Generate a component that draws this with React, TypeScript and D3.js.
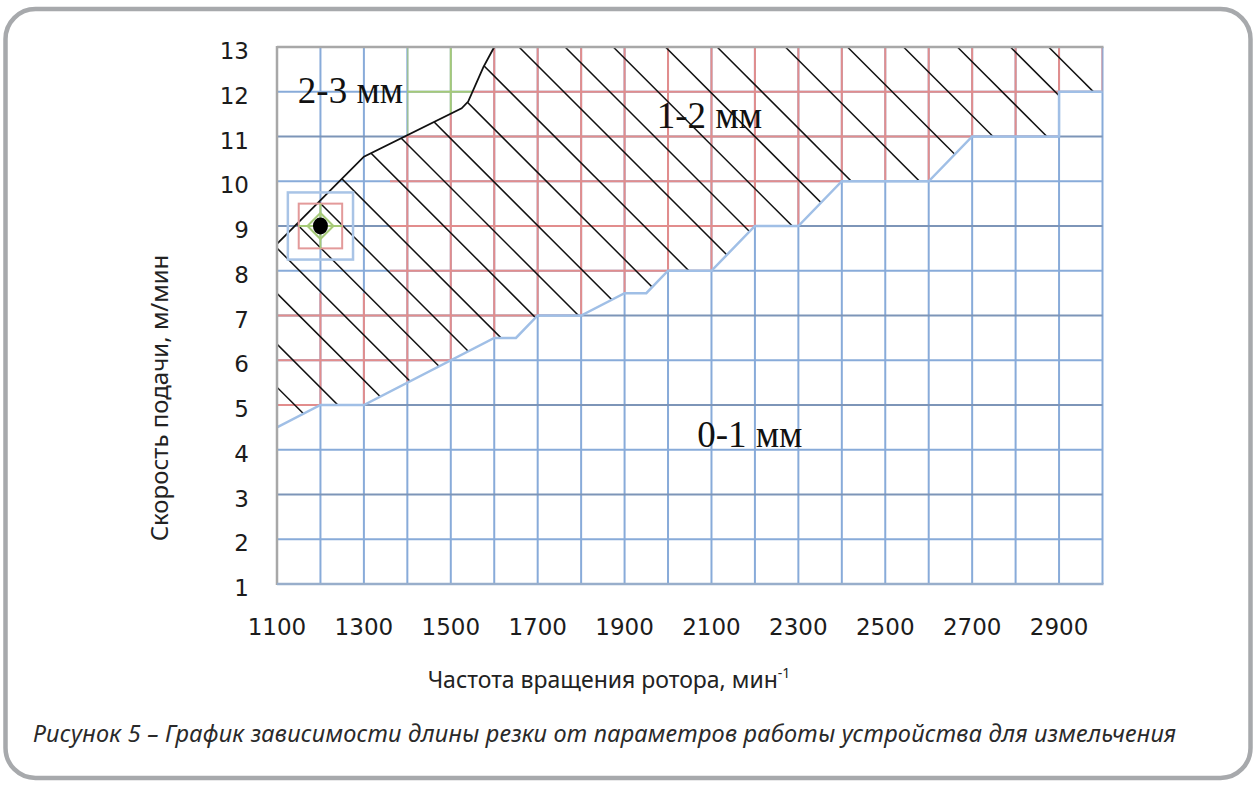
import * as d3 from 'd3'
import React from 'react'

// axis ticks
const rpmLabels = [1100, 1300, 1500, 1700, 1900, 2100, 2300, 2500, 2700, 2900]
const speedLabels = [1, 2, 3, 4, 5, 6, 7, 8, 9, 10, 11, 12, 13]
const darkRows = [3, 5, 7, 9, 11]

// lower edge of the 1-2 mm zone (blue line)
const lowerRpm = [1100, 1200, 1300, 1600, 1650, 1700, 1800, 1900, 1950, 2000, 2100, 2200, 2300, 2400, 2600, 2700, 2900, 2900, 3000]
const lowerSpeed = [4.5, 5, 5, 6.5, 6.5, 7, 7, 7.5, 7.5, 8, 8, 9, 9, 10, 10, 11, 11, 12, 12]

// upper edge of the 1-2 mm zone (black line)
const upperRpm = [1100, 1300, 1525, 1540, 1575, 1600]
const upperSpeed = [8.6, 10.55, 11.63, 11.78, 12.55, 13]

// hatch lines: rpm where each line crosses the top (13 m/min) level
const hatchStarts = [317, 416, 533, 637, 738, 840, 946, 1072, 1176, 1289, 1411, 1533, 1657, 1763, 1874, 1994, 2113, 2270, 2413, 2542, 2666, 2788, 2876]

const zoneLabels = [
    { text: '2-3 мм', rpm: 1148, speed: 11.74 },
    { text: '1-2 мм', rpm: 1974, speed: 11.18 },
    { text: '0-1 мм', rpm: 2067, speed: 4.06 },
]

const marker = { rpm: 1200, speed: 9 }

const W = 1255
const H = 785

const App = (): JSX.Element => {
    const x = d3.scaleLinear().domain([1100, 3000]).range([277, 1102.5])
    const y = d3.scaleLinear().domain([1, 13]).range([584, 47])

    const gridRpm = d3.range(1200, 3001, 100)
    const gridSpeed = d3.range(2, 13)

    const line = d3
        .line<number[]>()
        .x((d) => x(d[0]))
        .y((d) => y(d[1]))

    const lower = lowerRpm.map((r, i) => [r, lowerSpeed[i]])
    const upper = upperRpm.map((r, i) => [r, upperSpeed[i]])
    const zone12 = [...upper, [3000, 13], ...lower.slice().reverse()]
    const zone23 = [[1100, 13], [1600, 13], ...upper.slice().reverse()]
    // the red grid of the middle zone does not reach the top-left corner
    const redArea = [[1100, 7.5], [1360, 7.5], [1360, 13], [3000, 13], [3000, 1], [1100, 1]]
    const greenArea = [[1400, 11], [1600, 11], [1600, 13], [1400, 13]]

    const poly = (pts: number[][]) => line(pts) + 'Z'

    const grid = (color: string, dark?: string) => (
        <g fill="none" strokeWidth={2}>
            {gridRpm.map((r) => (
                <line key={`v${r}`} x1={x(r)} x2={x(r)} y1={y(1)} y2={y(13)} stroke={color} />
            ))}
            {gridSpeed.map((s) => (
                <line
                    key={`h${s}`}
                    x1={x(1100)}
                    x2={x(3000)}
                    y1={y(s)}
                    y2={y(s)}
                    stroke={dark && darkRows.includes(s) ? dark : color}
                />
            ))}
        </g>
    )

    const m = { cx: x(marker.rpm), cy: y(marker.speed) }
    const dia = 13

    return (
        <svg width={W} height={H} style={{ position: 'absolute', left: 0, top: 0 }}>
            <defs>
                <clipPath id="clip12">
                    <path d={poly(zone12)} />
                </clipPath>
                <clipPath id="clipRed">
                    <path d={poly(redArea)} />
                </clipPath>
                <clipPath id="clip23">
                    <path d={poly(zone23)} />
                </clipPath>
                <clipPath id="clipGreen">
                    <path d={poly(greenArea)} />
                </clipPath>
            </defs>
            <rect
                x={5.5}
                y={9}
                width={1245}
                height={769}
                rx={30}
                fill="#fff"
                stroke="#a7a9ac"
                strokeWidth={4.5}
            />

            {/* base blue grid */}
            {grid('#88abd9', '#7d95b8')}

            {/* red grid over the 1-2 mm zone */}
            <g clipPath="url(#clipRed)">
                <g clipPath="url(#clip12)">{grid('#e28d8d')}</g>
            </g>

            {/* green grid piece in the 2-3 mm zone */}
            <g clipPath="url(#clipGreen)">
                <g clipPath="url(#clip23)">{grid('#a6ca78')}</g>
            </g>

            {/* hatching */}
            <g clipPath="url(#clip12)">
                {hatchStarts.map((s) => (
                    <line
                        key={s}
                        x1={x(s)}
                        y1={y(13)}
                        x2={x(s) + 900}
                        y2={y(13) + 900}
                        stroke="#111"
                        strokeWidth={1.5}
                    />
                ))}
            </g>

            {/* zone boundaries */}
            <path d={line(lower)} fill="none" stroke="#a0bfe6" strokeWidth={2.5} />
            <path d={line(upper)} fill="none" stroke="#111" strokeWidth={1.8} />

            {/* frame */}
            <g stroke="#a8a8a8" strokeWidth={2.5}>
                <line x1={x(1100)} x2={x(1100)} y1={y(1) + 1} y2={y(13) - 1} />
                <line x1={x(1100)} x2={x(3000) + 1} y1={y(13)} y2={y(13)} />
            </g>
            <line x1={x(1100)} x2={x(3000) + 1} y1={y(1)} y2={y(1)} stroke="#98aecb" strokeWidth={2.5} />

            {/* marker */}
            <rect
                x={x(marker.rpm - 75)}
                y={y(marker.speed + 0.75)}
                width={x(marker.rpm + 75) - x(marker.rpm - 75)}
                height={y(marker.speed - 0.75) - y(marker.speed + 0.75)}
                fill="none"
                stroke="#a9c4e6"
                strokeWidth={2.5}
            />
            <rect
                x={x(marker.rpm - 50)}
                y={y(marker.speed + 0.5)}
                width={x(marker.rpm + 50) - x(marker.rpm - 50)}
                height={y(marker.speed - 0.5) - y(marker.speed + 0.5)}
                fill="none"
                stroke="#e39a9a"
                strokeWidth={2}
            />
            <g stroke="#a6ca78" strokeWidth={2} fill="none">
                <line x1={m.cx} x2={m.cx} y1={y(marker.speed + 0.5)} y2={y(marker.speed - 0.5)} />
                <line x1={x(marker.rpm - 50)} x2={x(marker.rpm + 50)} y1={m.cy} y2={m.cy} />
                <path d={`M${m.cx},${m.cy - dia}L${m.cx + dia},${m.cy}L${m.cx},${m.cy + dia}L${m.cx - dia},${m.cy}Z`} />
            </g>
            <ellipse cx={m.cx} cy={m.cy} rx={7.5} ry={8.5} fill="#000" />

            {/* zone labels */}
            {zoneLabels.map((l) => (
                <text
                    key={l.text}
                    x={x(l.rpm)}
                    y={y(l.speed)}
                    fontFamily="Liberation Serif, serif"
                    fontSize={37}
                    fill="#111"
                >
                    {l.text}
                </text>
            ))}

            {/* tick labels */}
            <g fontFamily="DejaVu Sans, sans-serif" fontSize={23} fill="#1c1c1c">
                {rpmLabels.map((r) => (
                    <text key={r} x={x(r)} y={635} textAnchor="middle">
                        {r}
                    </text>
                ))}
                {speedLabels.map((s) => (
                    <text key={s} x={249} y={y(s) + 12} textAnchor="end">
                        {s}
                    </text>
                ))}
            </g>

            {/* axis titles */}
            <text
                transform="translate(168,398) rotate(-90)"
                textAnchor="middle"
                fontFamily="Noto Sans, sans-serif"
                fontSize={24}
                fill="#222"
            >
                Скорость подачи, м/мин
            </text>
            <text x={609} y={688} textAnchor="middle" fontFamily="Noto Sans, sans-serif" fontSize={23} fill="#222">
                Частота вращения ротора, мин
                <tspan fontSize={14} dy={-10}>
                    -1
                </tspan>
            </text>

            {/* caption */}
            <text
                x={33}
                y={742}
                fontFamily="Noto Sans, sans-serif"
                fontStyle="italic"
                fontSize={23.5}
                fill="#2a2a2a"
                textLength={1143}
            >
                Рисунок 5 – График зависимости длины резки от параметров работы устройства для измельчения
            </text>
        </svg>
    )
}

export default App
